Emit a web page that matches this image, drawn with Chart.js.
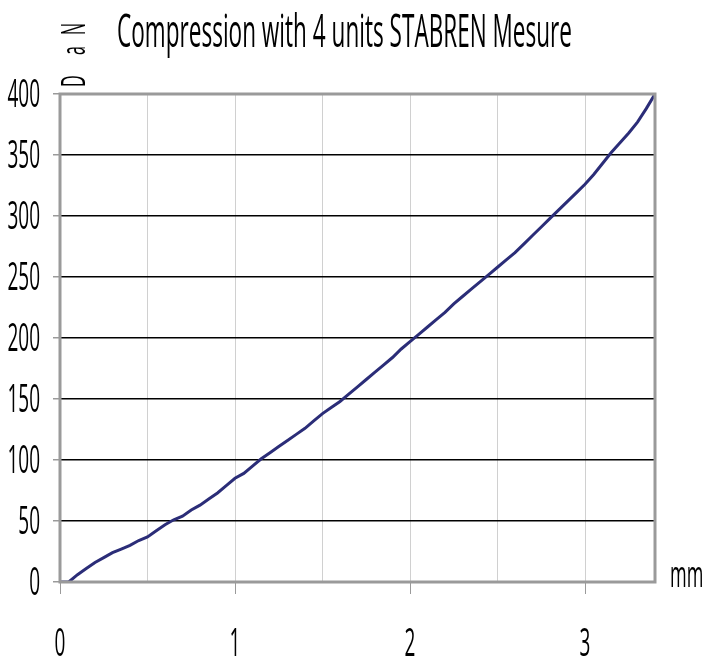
<!DOCTYPE html>
<html>
<head>
<meta charset="utf-8">
<script src="https://cdn.jsdelivr.net/npm/chart.js@4"></script>
<style>
  html, body { margin: 0; padding: 0; background: #fff; }
  #wrap { width: 709px; height: 657px; position: relative; }
</style>
</head>
<body>
<div id="wrap"><canvas id="chart"></canvas></div>
<script>
// displacement (mm) and load (daN)
const mm  = [0, 0.05, 0.1, 0.15, 0.2, 0.25, 0.3, 0.35, 0.4, 0.45, 0.5, 0.55, 0.6, 0.65, 0.7, 0.75, 0.8, 0.85, 0.9, 0.95,
             1.0, 1.05, 1.1, 1.15, 1.2, 1.25, 1.3, 1.35, 1.4, 1.45, 1.5, 1.55, 1.6, 1.65, 1.7, 1.75, 1.8, 1.85, 1.9, 1.95,
             2.0, 2.05, 2.1, 2.15, 2.2, 2.25, 2.3, 2.35, 2.4, 2.45, 2.5, 2.55, 2.6, 2.65, 2.7, 2.75, 2.8, 2.85, 2.9, 2.95,
             3.0, 3.05, 3.1, 3.15, 3.2, 3.25, 3.3, 3.35, 3.4];
const daN = [0, 0, 6, 11, 16, 20, 24, 27, 30, 34, 37, 42, 47, 51, 54, 59, 63, 68, 73, 79,
             85, 89, 95, 101, 106, 111, 116, 121, 126, 132, 138, 143, 148, 154, 160, 166, 172, 178, 184, 191,
             197, 203, 209, 215, 221, 228, 234, 240, 246, 252, 258, 264, 270, 277, 284, 291, 298, 305, 312, 319,
             326, 334, 343, 352, 360, 368, 377, 388, 400];
const xTicks = [0, 0.5, 1, 1.5, 2, 2.5, 3];

const TITLE = 'Compression with 4 units STABREN Mesure';
const Y_UNIT = ['D', 'a', 'N'];
const X_UNIT = 'mm';
const FONT = '"Open Sans", sans-serif';
const SQUEEZE = 0.5; // condensed look of the original font

// draw text squeezed horizontally
function squeezed(ctx, text, x, y, size, align, sx) {
  ctx.save();
  ctx.font = size + 'px ' + FONT;
  ctx.textAlign = align;
  ctx.textBaseline = 'alphabetic';
  ctx.translate(x, y);
  ctx.scale(sx, 1);
  ctx.fillText(text, 0, 0);
  ctx.restore();
}

const extras = {
  id: 'extras',
  afterDraw(chart) {
    const { ctx, chartArea: a, scales } = chart;
    ctx.save();
    ctx.strokeStyle = '#9a9a9a';
    ctx.lineWidth = 3;
    ctx.strokeRect(a.left, a.top, a.right - a.left, a.bottom - a.top);
    ctx.fillStyle = '#000';

    // title fitted to the original width
    ctx.font = '45px ' + FONT;
    const tw = ctx.measureText(TITLE).width;
    squeezed(ctx, TITLE, 117, 47, 45, 'left', 455 / tw);

    // y tick labels
    scales.y.ticks.forEach(t => {
      const py = scales.y.getPixelForValue(t.value);
      squeezed(ctx, String(t.value), 40, py + 13, 38, 'right', SQUEEZE);
    });
    // x tick labels (integers only)
    scales.x.ticks.forEach(t => {
      if (!Number.isInteger(t.value)) return;
      const px = scales.x.getPixelForValue(t.value);
      squeezed(ctx, String(t.value), px, 656, 38, 'center', SQUEEZE);
    });

    squeezed(ctx, X_UNIT, a.right + 15, a.bottom + 5, 36, 'left', SQUEEZE);

    // vertical unit label, letters spread out
    ctx.translate(85, a.top - 7);
    ctx.rotate(-Math.PI / 2);
    const offs = [0, 32, 52];
    Y_UNIT.forEach((ch, i) => squeezed(ctx, ch, offs[i], 0, 32, 'left', SQUEEZE));
    ctx.restore();
  }
};

new Chart(document.getElementById('chart'), {
  type: 'line',
  data: {
    datasets: [{
      data: mm.map((x, i) => ({ x, y: daN[i] })),
      borderColor: '#2b2d78',
      borderWidth: 3,
      pointRadius: 0,
      tension: 0,
      fill: false
    }]
  },
  options: {
    responsive: true,
    maintainAspectRatio: false,
    animation: false,
    layout: { padding: { top: 94, right: 54, left: 0, bottom: 0 } },
    plugins: { legend: { display: false }, tooltip: { enabled: false } },
    scales: {
      x: {
        type: 'linear',
        min: 0, max: 3.4,
        afterFit: s => { s.height = 75; },
        afterBuildTicks: s => { s.ticks = xTicks.map(v => ({ value: v })); },
        border: { display: false },
        grid: {
          color: '#d0d0d0',
          lineWidth: 1,
          tickLength: 12,
          tickColor: c => Number.isInteger(c.tick.value) ? '#9a9a9a' : 'rgba(0,0,0,0)',
          tickWidth: 1
        },
        ticks: { color: 'rgba(0,0,0,0)', autoSkip: false, maxRotation: 0 }
      },
      y: {
        min: 0, max: 400,
        afterFit: s => { s.width = 60; },
        border: { display: false },
        grid: {
          color: c => (c.tick.value === 0 || c.tick.value === 400) ? 'rgba(0,0,0,0)' : '#000',
          lineWidth: 1.5,
          tickLength: 7,
          tickColor: '#9a9a9a'
        },
        ticks: { stepSize: 50, color: 'rgba(0,0,0,0)' }
      }
    }
  },
  plugins: [extras]
});
</script>
</body>
</html>
